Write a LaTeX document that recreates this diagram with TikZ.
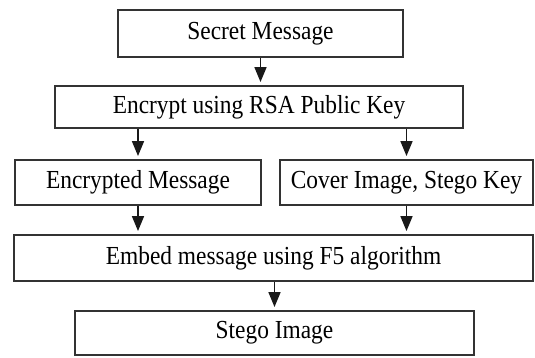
\documentclass[tikz,border=0pt]{standalone}
\usepackage{fontspec}
\setmainfont{Liberation Serif}[FakeStretch=0.9]
\usetikzlibrary{arrows.meta}

\tikzset{
  stepbox/.style={draw=black!80, line width=1.9pt, inner sep=0pt,
    font=\fontsize{26}{29}\selectfont},
  flow/.style={-{Triangle[width=12pt,length=15pt]}, line width=1.7pt,
    draw=black!90, shorten >=3pt}
}

\begin{document}
\begin{tikzpicture}[x=1pt,y=-1pt]
\useasboundingbox (0,0) rectangle (535,358);

\node[stepbox, minimum width=285pt, minimum height=47pt] (secret) at (260.5,33.5) {Secret Message};
\node[stepbox, minimum width=408pt, minimum height=42pt] (encrypt) at (259,107) {Encrypt using RSA Public Key};
\node[stepbox, minimum width=246pt, minimum height=45pt] (encmsg) at (138,182.5) {Encrypted Message};
\node[stepbox, minimum width=253pt, minimum height=45pt] (cover) at (406.5,182.5) {Cover Image, Stego Key};
\node[stepbox, minimum width=519pt, minimum height=46pt] (embed) at (273.5,258) {Embed message using F5 algorithm};
\node[stepbox, minimum width=399pt, minimum height=44pt] (stego) at (274.5,333) {Stego Image};

\draw[flow] (secret) -- (secret |- encrypt.north);
\draw[flow] (encrypt.south -| encmsg) -- (encmsg);
\draw[flow] (encrypt.south -| cover) -- (cover);
\draw[flow] (encmsg) -- (encmsg |- embed.north);
\draw[flow] (cover) -- (cover |- embed.north);
\draw[flow] (embed.south -| stego) -- (stego);
\end{tikzpicture}
\end{document}
